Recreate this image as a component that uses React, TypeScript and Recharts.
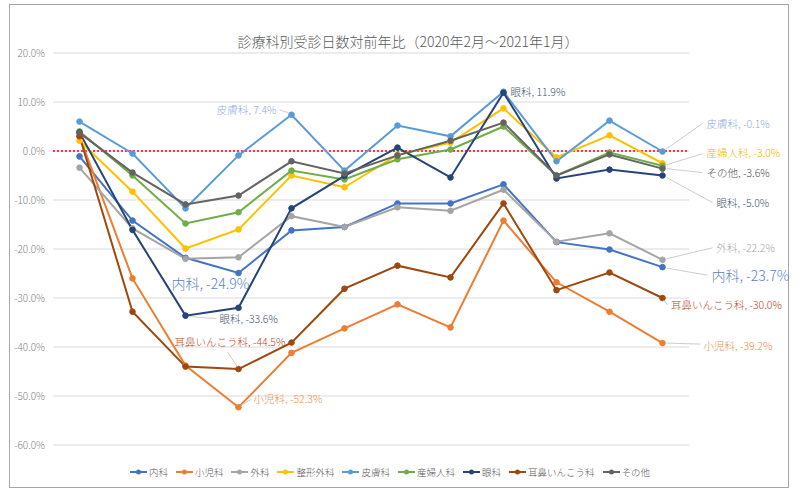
import React from "react";
import {
  CartesianGrid,
  Legend,
  LabelList,
  Line,
  LineChart,
  ReferenceLine,
  XAxis,
  YAxis
} from "recharts";

const FONT = '"Noto Sans CJK JP", "Noto Sans", sans-serif';

const months = [
  "2020/02", "2020/03", "2020/04", "2020/05", "2020/06", "2020/07",
  "2020/08", "2020/09", "2020/10", "2020/11", "2020/12", "2021/01"
];

// 対前年比（%）
const naika = [-1.1, -14.2, -21.8, -24.9, -16.2, -15.5, -10.7, -10.7, -6.8, -18.6, -20.1, -23.7];
const shonika = [3.0, -26.0, -43.8, -52.3, -41.2, -36.2, -31.3, -36.0, -14.2, -26.8, -32.8, -39.2];
const geka = [-3.4, -15.8, -22.0, -21.7, -13.3, -15.5, -11.5, -12.2, -7.9, -18.5, -16.8, -22.2];
const seikei = [2.1, -8.3, -19.9, -16.0, -5.0, -7.4, -0.8, 1.7, 8.7, -1.3, 3.2, -2.5];
const hifuka = [6.0, -0.5, -11.7, -0.9, 7.4, -4.0, 5.2, 3.0, 12.1, -2.1, 6.2, -0.1];
const sanfujin = [4.0, -5.0, -14.8, -12.5, -4.0, -5.8, -1.7, 0.3, 5.0, -5.0, -0.3, -3.0];
const ganka = [3.8, -16.1, -33.6, -32.0, -11.7, -5.1, 0.7, -5.4, 11.9, -5.6, -3.8, -5.0];
const jibika = [3.0, -32.8, -44.0, -44.5, -39.1, -28.1, -23.4, -25.8, -10.7, -28.4, -24.8, -30.0];
const sonota = [3.7, -4.4, -10.9, -9.1, -2.1, -4.6, -0.9, 2.1, 5.8, -5.0, -0.7, -3.6];

const yTicks = [20, 10, 0, -10, -20, -30, -40, -50, -60];

const series = [
  { key: "内科", values: naika, color: "#4472C4" },
  { key: "小児科", values: shonika, color: "#ED7D31" },
  { key: "外科", values: geka, color: "#A5A5A5" },
  { key: "整形外科", values: seikei, color: "#FFC000" },
  { key: "皮膚科", values: hifuka, color: "#5B9BD5" },
  { key: "産婦人科", values: sanfujin, color: "#70AD47" },
  { key: "眼科", values: ganka, color: "#264478" },
  { key: "耳鼻いんこう科", values: jibika, color: "#9E480E" },
  { key: "その他", values: sonota, color: "#636363" }
];

const rows = months.map((m, i) => {
  const row: Record<string, number | string> = { idx: i, month: m };
  series.forEach((s) => {
    row[s.key] = s.values[i];
  });
  return row;
});

// data label placement, relative to the point
type LabelSpec = {
  key: string;
  index: number;
  dx: number;
  dy: number;
  anchor: "start" | "end";
  color: string;
  size: number;
  leader?: [number, number, number, number];
};

const labelSpecs: LabelSpec[] = [
  { key: "皮膚科", index: 4, dx: -15, dy: -5, anchor: "end", color: "#8FAADC", size: 10.5, leader: [-12, -5, -3, -2] },
  { key: "眼科", index: 8, dx: 7, dy: -1, anchor: "start", color: "#44546A", size: 10.5 },
  { key: "皮膚科", index: 11, dx: 44, dy: -28, anchor: "start", color: "#8FAADC", size: 10.5, leader: [3, -2, 40, -28] },
  { key: "産婦人科", index: 11, dx: 44, dy: -13, anchor: "start", color: "#F2B800", size: 10.5, leader: [4, -1, 40, -12] },
  { key: "その他", index: 11, dx: 44, dy: 4, anchor: "start", color: "#505050", size: 10.5, leader: [4, 0, 40, 4] },
  { key: "眼科", index: 11, dx: 54, dy: 27, anchor: "start", color: "#44546A", size: 10.5, leader: [4, 2, 50, 27] },
  { key: "外科", index: 11, dx: 54, dy: -12, anchor: "start", color: "#A6A6A6", size: 10.5, leader: [4, -1, 50, -12] },
  { key: "内科", index: 11, dx: 49, dy: 8, anchor: "start", color: "#5A7FC8", size: 14, leader: [4, 1, 45, 8] },
  { key: "耳鼻いんこう科", index: 11, dx: 8.5, dy: 6.5, anchor: "start", color: "#B4472A", size: 10.5, leader: [1, 2, 5, 7] },
  { key: "小児科", index: 11, dx: 41, dy: 2, anchor: "start", color: "#E8924F", size: 10.5, leader: [4, 0, 38, 1] },
  { key: "内科", index: 3, dx: -67, dy: 9.5, anchor: "start", color: "#5A7FC8", size: 14 },
  { key: "眼科", index: 2, dx: 34, dy: 3, anchor: "start", color: "#44546A", size: 10.5, leader: [4, 1, 31, 3] },
  { key: "耳鼻いんこう科", index: 3, dx: -64, dy: -27.5, anchor: "start", color: "#B4472A", size: 10.5, leader: [-1, -2, -11, -17] },
  { key: "小児科", index: 3, dx: 15, dy: -9, anchor: "start", color: "#E8924F", size: 10.5, leader: [2, -2, 13, -8] }
];

function makeLabel(seriesKey: string) {
  return (props: any) => {
    const { x, y, value, index } = props;
    const spec = labelSpecs.find((l) => l.key === seriesKey && l.index === index);
    if (!spec || x == null || y == null) return null;
    const text = `${seriesKey}, ${Number(value).toFixed(1)}%`;
    return (
      <g>
        {spec.leader && (
          <line
            x1={x + spec.leader[0]}
            y1={y + spec.leader[1]}
            x2={x + spec.leader[2]}
            y2={y + spec.leader[3]}
            stroke="#BFBFBF"
            strokeWidth={0.8}
          />
        )}
        <text
          x={x + spec.dx}
          y={y + spec.dy}
          textAnchor={spec.anchor}
          dominantBaseline="central"
          fontSize={spec.size}
          fontWeight={300}
          fill={spec.color}
          fontFamily={FONT}
        >
          {text}
        </text>
      </g>
    );
  };
}

function LegendContent() {
  return (
    <div
      style={{
        display: "flex",
        justifyContent: "center",
        gap: 8,
        fontFamily: FONT,
        fontSize: 9.5,
        fontWeight: 300,
        color: "#595959"
      }}
    >
      {series.map((s) => (
        <div key={s.key} style={{ display: "flex", alignItems: "center" }}>
          <svg width={17} height={8} style={{ marginRight: 2 }}>
            <line x1={0} y1={4} x2={17} y2={4} stroke={s.color} strokeWidth={2} />
            <circle cx={8.5} cy={4} r={2.5} fill={s.color} />
          </svg>
          <span>{s.key}</span>
        </div>
      ))}
    </div>
  );
}

export default function App() {
  return (
    <div style={{ position: "absolute", left: 0, top: 0, width: 800, height: 490, background: "#fff" }}>
      <div
        style={{
          position: "absolute",
          left: 9,
          top: 4,
          width: 778,
          height: 482,
          border: "1.5px solid #A6A6A6",
          pointerEvents: "none"
        }}
      />
      <div
        style={{
          position: "absolute",
          left: 0,
          top: 31,
          width: 816,
          textAlign: "center",
          fontFamily: FONT,
          fontSize: 14,
          fontWeight: 300,
          color: "#595959"
        }}
      >
        診療科別受診日数対前年比（2020年2月～2021年1月）
      </div>
      <LineChart
        width={800}
        height={490}
        data={rows}
        margin={{ top: 53, right: 111, bottom: 45, left: 0 }}
        style={{ fontFamily: FONT }}
      >
        <CartesianGrid vertical={false} stroke="#D9D9D9" />
        <XAxis type="number" dataKey="idx" domain={[-0.5, 11.5]} hide />
        <YAxis
          width={53}
          domain={[-60, 20]}
          ticks={yTicks}
          interval={0}
          axisLine={false}
          tickLine={false}
          tick={{ fill: "#7F7F7F", fontSize: 10, fontWeight: 300 }}
          tickFormatter={(v: number) => `${v.toFixed(1)}%`}
        />
        <ReferenceLine y={0} stroke="#FF0000" strokeDasharray="2 2" strokeWidth={1.3} />
        {series.map((s) => (
          <Line
            key={s.key}
            type="linear"
            dataKey={s.key}
            stroke={s.color}
            strokeWidth={2}
            dot={{ r: 2.8, fill: s.color, stroke: s.color, strokeWidth: 1 }}
            activeDot={false}
            isAnimationActive={false}
          >
            <LabelList dataKey={s.key} content={makeLabel(s.key)} />
          </Line>
        ))}
        <Legend
          layout="horizontal"
          verticalAlign="middle"
          content={() => <LegendContent />}
          wrapperStyle={{ top: 465, left: -10, width: 800 }}
        />
      </LineChart>
    </div>
  );
}
